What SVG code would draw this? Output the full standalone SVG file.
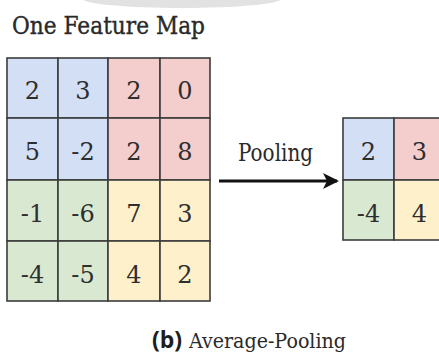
<svg xmlns="http://www.w3.org/2000/svg" width="439" height="356" viewBox="0 0 439 356">
  <style>
    .cell { stroke: #3c3c3c; stroke-width: 1.6; }
    .blue { fill: #d3dff5; }
    .red { fill: #f4cdcd; }
    .green { fill: #d8e8d1; }
    .yellow { fill: #fdf0cb; }
    .num { font-family: "DejaVu Serif", "Liberation Serif", serif; font-size: 24px; fill: #2e2e2e; text-anchor: middle; }
    .serif { font-family: "DejaVu Serif", "Liberation Serif", serif; fill: #2a2a2a; }
  </style>
  <defs>
    <marker id="head" viewBox="0 0 16 16" refX="14" refY="8" markerWidth="16" markerHeight="16" markerUnits="userSpaceOnUse" orient="auto">
      <path d="M0,0 L16,8 L0,16 L4,8 Z" fill="#111"/>
    </marker>
  </defs>

  <rect width="439" height="356" fill="#ffffff"/>
  <!-- soft grey shape at the top edge -->
  <ellipse cx="182" cy="-1" rx="99" ry="9" fill="#e2e2e2"/>

  <g id="title">
    <text class="serif" x="12" y="34" font-size="25" stroke="#2a2a2a" stroke-width="0.4" textLength="193" lengthAdjust="spacingAndGlyphs">One Feature Map</text>
  </g>

  <!-- 4x4 feature map -->
  <g id="feature-map">
    <g id="fm-r1c1"><rect class="cell blue" x="7" y="58" width="51" height="60"/><text class="num" x="32.5" y="99">2</text></g>
    <g id="fm-r1c2"><rect class="cell blue" x="58" y="58" width="50" height="60"/><text class="num" x="83" y="99">3</text></g>
    <g id="fm-r1c3"><rect class="cell red" x="108" y="58" width="52" height="60"/><text class="num" x="134" y="99">2</text></g>
    <g id="fm-r1c4"><rect class="cell red" x="160" y="58" width="50" height="60"/><text class="num" x="185" y="99">0</text></g>

    <g id="fm-r2c1"><rect class="cell blue" x="7" y="118" width="51" height="62"/><text class="num" x="32.5" y="160">5</text></g>
    <g id="fm-r2c2"><rect class="cell blue" x="58" y="118" width="50" height="62"/><text class="num" x="83" y="160">-2</text></g>
    <g id="fm-r2c3"><rect class="cell red" x="108" y="118" width="52" height="62"/><text class="num" x="134" y="160">2</text></g>
    <g id="fm-r2c4"><rect class="cell red" x="160" y="118" width="50" height="62"/><text class="num" x="185" y="160">8</text></g>

    <g id="fm-r3c1"><rect class="cell green" x="7" y="180" width="51" height="61"/><text class="num" x="32.5" y="222">-1</text></g>
    <g id="fm-r3c2"><rect class="cell green" x="58" y="180" width="50" height="61"/><text class="num" x="83" y="222">-6</text></g>
    <g id="fm-r3c3"><rect class="cell yellow" x="108" y="180" width="52" height="61"/><text class="num" x="134" y="222">7</text></g>
    <g id="fm-r3c4"><rect class="cell yellow" x="160" y="180" width="50" height="61"/><text class="num" x="185" y="222">3</text></g>

    <g id="fm-r4c1"><rect class="cell green" x="7" y="241" width="51" height="60"/><text class="num" x="32.5" y="283">-4</text></g>
    <g id="fm-r4c2"><rect class="cell green" x="58" y="241" width="50" height="60"/><text class="num" x="83" y="283">-5</text></g>
    <g id="fm-r4c3"><rect class="cell yellow" x="108" y="241" width="52" height="60"/><text class="num" x="134" y="283">4</text></g>
    <g id="fm-r4c4"><rect class="cell yellow" x="160" y="241" width="50" height="60"/><text class="num" x="185" y="283">2</text></g>
  </g>

  <!-- pooled 2x2 output -->
  <g id="pooled">
    <g id="po-r1c1"><rect class="cell blue" x="343" y="118" width="51" height="62"/><text class="num" x="368.5" y="160">2</text></g>
    <g id="po-r1c2"><rect class="cell red" x="394" y="118" width="51" height="62"/><text class="num" x="419.5" y="160">3</text></g>
    <g id="po-r2c1"><rect class="cell green" x="343" y="180" width="51" height="60"/><text class="num" x="368.5" y="222">-4</text></g>
    <g id="po-r2c2"><rect class="cell yellow" x="394" y="180" width="51" height="60"/><text class="num" x="419.5" y="222">4</text></g>
  </g>

  <g id="connectors">
    <line x1="219" y1="181" x2="337" y2="181" stroke="#111" stroke-width="3" marker-end="url(#head)"/>
    <text class="serif" x="238" y="161" font-size="24" textLength="75" lengthAdjust="spacingAndGlyphs">Pooling</text>
  </g>

  <g id="caption">
    <text x="152" y="348" font-family="'Open Sans', sans-serif" font-weight="bold" font-size="23" fill="#1e1e1e">(b)</text>
    <text class="serif" x="189" y="348" font-size="21" textLength="157" lengthAdjust="spacingAndGlyphs">Average-Pooling</text>
  </g>
</svg>
